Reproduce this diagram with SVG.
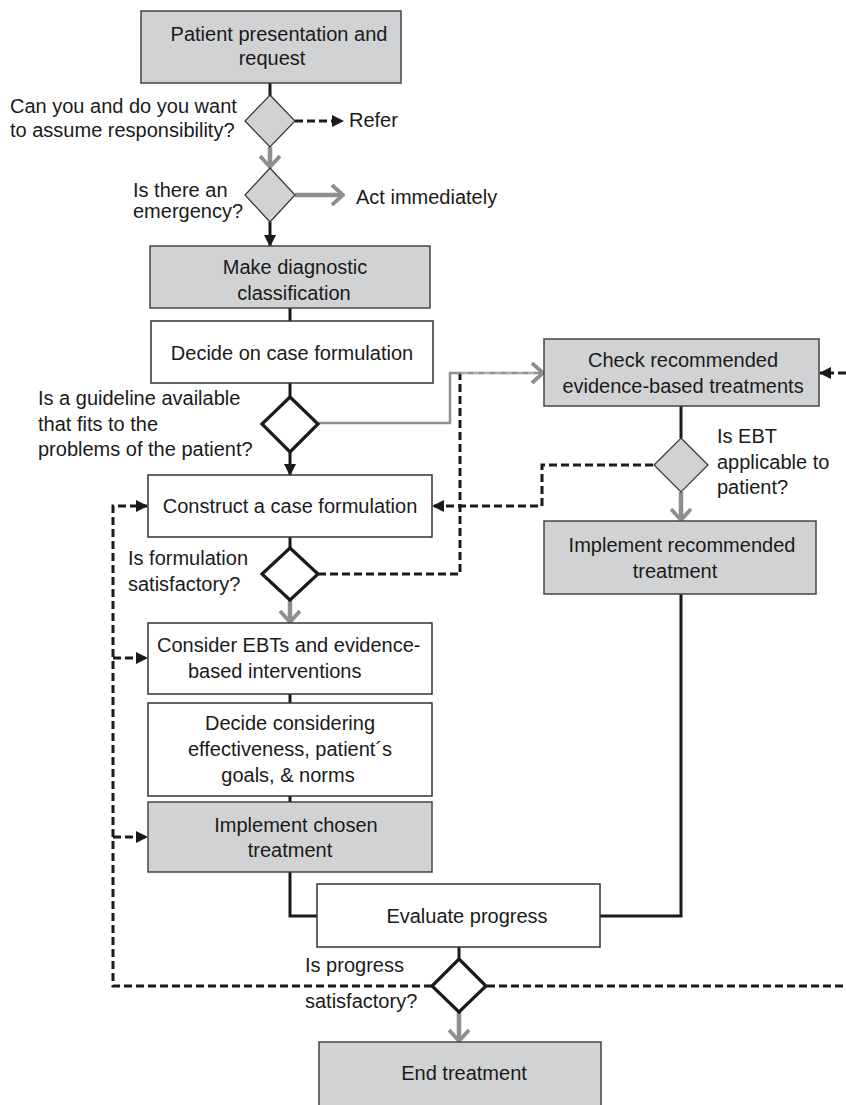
<svg xmlns="http://www.w3.org/2000/svg" width="846" height="1105" viewBox="0 0 846 1105">
<defs>
<style>
text{font-family:"Liberation Sans",Arial,sans-serif;font-size:20px;fill:#1a1a1a}
.c{text-anchor:middle}
.gbox{fill:#d1d2d4;stroke:#444;stroke-width:1.5}
.wbox{fill:#fff;stroke:#333;stroke-width:1.5}
.gdia{fill:#d1d2d4;stroke:#333;stroke-width:1.2}
.wdia{fill:#fff;stroke:#1a1a1a;stroke-width:3.2}
.blk{fill:none;stroke:#1a1a1a;stroke-width:3}
.dsh{fill:none;stroke:#1a1a1a;stroke-width:3;stroke-dasharray:8 4}
.gry{fill:none;stroke:#8e8e8e;stroke-width:4.5}
.gryt{fill:none;stroke:#8e8e8e;stroke-width:2.5}
</style>
<marker id="ab" markerUnits="userSpaceOnUse" markerWidth="12" markerHeight="12" refX="11" refY="6" orient="auto"><path d="M0,0 L12,6 L0,12 z" fill="#1a1a1a"/></marker>
<marker id="ag" markerUnits="userSpaceOnUse" markerWidth="14" markerHeight="22" refX="12" refY="11" orient="auto"><path d="M1,1 L12,11 L1,21" fill="none" stroke="#8e8e8e" stroke-width="3.8"/></marker>
</defs>

<g id="connectors">
<line class="blk" x1="270" y1="83" x2="270" y2="96"/>
<line class="dsh" x1="295" y1="121" x2="343" y2="121" marker-end="url(#ab)"/>
<line class="gry" x1="270" y1="147" x2="270" y2="167" marker-end="url(#ag)"/>
<line class="gry" x1="295" y1="195" x2="343" y2="195" marker-end="url(#ag)"/>
<line class="blk" x1="270" y1="222" x2="270" y2="246" marker-end="url(#ab)"/>
<line class="blk" x1="290" y1="308" x2="290" y2="321"/>
<line class="blk" x1="290" y1="383" x2="290" y2="397"/>
<polyline class="dsh" points="318,574 460,574 460,374"/>
<polyline class="gryt" points="318,423 450,423 450,373 543,373" marker-end="url(#ag)"/>
<line x1="462" y1="373" x2="534" y2="373" stroke="#ffffff" stroke-width="0.8" stroke-dasharray="6 5" opacity="0.7"/>
<line class="blk" x1="290" y1="452" x2="290" y2="475" marker-end="url(#ab)"/>
<line class="dsh" x1="846" y1="373" x2="820" y2="373" marker-end="url(#ab)"/>
<line class="blk" x1="681" y1="406" x2="681" y2="438"/>
<polyline class="dsh" points="653,465 542,465 542,506 433,506" marker-end="url(#ab)"/>
<line class="gry" x1="681" y1="492" x2="681" y2="520" marker-end="url(#ag)"/>
<line class="blk" x1="290" y1="537" x2="290" y2="548"/>
<line class="gry" x1="290" y1="600" x2="290" y2="622" marker-end="url(#ag)"/>
<line class="blk" x1="290" y1="694" x2="290" y2="703"/>
<line class="blk" x1="290" y1="796" x2="290" y2="802"/>
<polyline class="dsh" points="432,986 113,986 113,506 147,506" marker-end="url(#ab)"/>
<line class="dsh" x1="113" y1="658" x2="147" y2="658" marker-end="url(#ab)"/>
<line class="dsh" x1="113" y1="837" x2="147" y2="837" marker-end="url(#ab)"/>
<polyline class="blk" points="290,872 290,916 317,916"/>
<polyline class="blk" points="600,916 681,916 681,594"/>
<line class="blk" x1="459" y1="947" x2="459" y2="959"/>
<line class="dsh" x1="487" y1="986" x2="846" y2="986"/>
<line class="gry" x1="459" y1="1012" x2="459" y2="1041" marker-end="url(#ag)"/>
</g>

<g id="n-patient">
<rect class="gbox" x="141" y="11" width="260" height="72"/>
<text class="c" x="279" y="41">Patient presentation and</text>
<text class="c" x="272" y="65">request</text>
</g>
<g id="d-responsibility">
<polygon class="gdia" points="270,95 295,121 270,147 245,121"/>
<text x="10" y="113">Can you and do you want</text>
<text x="10" y="137">to assume responsibility?</text>
</g>
<g id="n-refer"><text x="349" y="127">Refer</text></g>
<g id="d-emergency">
<polygon class="gdia" points="270,168 295,195 270,222 245,195"/>
<text x="133" y="197">Is there an</text>
<text x="133" y="218">emergency?</text>
</g>
<g id="n-act"><text x="356" y="204">Act immediately</text></g>
<g id="n-diagnostic">
<rect class="gbox" x="150" y="246" width="280" height="62"/>
<text class="c" x="295" y="274">Make diagnostic</text>
<text class="c" x="294" y="300">classification</text>
</g>
<g id="n-decide-case">
<rect class="wbox" x="151" y="321" width="282" height="62"/>
<text class="c" x="292" y="360">Decide on case formulation</text>
</g>
<g id="d-guideline">
<polygon class="wdia" points="290,397 318,424 290,452 262,424"/>
<text x="38" y="405">Is a guideline available</text>
<text x="38" y="431">that fits to the</text>
<text x="38" y="456">problems of the patient?</text>
</g>
<g id="n-check">
<rect class="gbox" x="544" y="339" width="275" height="67"/>
<text class="c" x="683" y="367">Check recommended</text>
<text class="c" x="683" y="393">evidence-based treatments</text>
</g>
<g id="d-ebt">
<polygon class="gdia" points="681,438 708,465 681,492 654,465"/>
<text x="717" y="443">Is EBT</text>
<text x="717" y="469">applicable to</text>
<text x="717" y="494">patient?</text>
</g>
<g id="n-impl-rec">
<rect class="gbox" x="544" y="521" width="272" height="73"/>
<text class="c" x="682" y="552">Implement recommended</text>
<text class="c" x="675" y="578">treatment</text>
</g>
<g id="n-construct">
<rect class="wbox" x="148" y="475" width="284" height="62"/>
<text class="c" x="290" y="513">Construct a case formulation</text>
</g>
<g id="d-formulation">
<polygon class="wdia" points="290,548 318,574 290,600 262,574"/>
<text x="128" y="565">Is formulation</text>
<text x="128" y="591">satisfactory?</text>
</g>
<g id="n-consider">
<rect class="wbox" x="148" y="623" width="284" height="71"/>
<text x="157" y="652">Consider EBTs and evidence-</text>
<text x="188" y="678">based interventions</text>
</g>
<g id="n-decide-consider">
<rect class="wbox" x="148" y="703" width="284" height="93"/>
<text class="c" x="290" y="730">Decide considering</text>
<text class="c" x="290" y="756">effectiveness, patient´s</text>
<text class="c" x="288" y="782">goals, &amp; norms</text>
</g>
<g id="n-impl-chosen">
<rect class="gbox" x="148" y="802" width="284" height="70"/>
<text class="c" x="296" y="832">Implement chosen</text>
<text class="c" x="290" y="857">treatment</text>
</g>
<g id="n-evaluate">
<rect class="wbox" x="317" y="884" width="283" height="63"/>
<text class="c" x="467" y="923">Evaluate progress</text>
</g>
<g id="d-progress">
<polygon class="wdia" points="459,959 486,986 459,1012 432,986"/>
<text x="305" y="972">Is progress</text>
<text x="305" y="1008">satisfactory?</text>
</g>
<g id="n-end">
<rect class="gbox" x="319" y="1042" width="282" height="70"/>
<text class="c" x="464" y="1080">End treatment</text>
</g>
</svg>
